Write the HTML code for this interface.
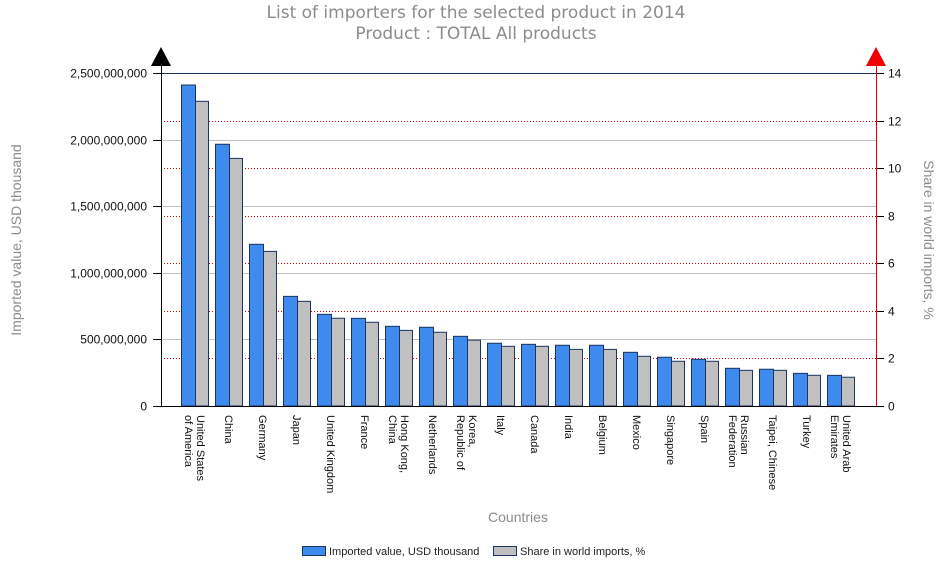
<!DOCTYPE html>
<html><head><meta charset="utf-8"><style>
body{margin:0;background:#fff;}
svg{display:block;font-family:"Liberation Sans",Arial,sans-serif;}
</style></head><body>
<svg id="chart" width="946" height="572" viewBox="0 0 946 572">
<text x="476" y="18" text-anchor="middle" font-size="17" fill="#8c8c8c" style="font-family:'DejaVu Sans',sans-serif">List of importers for the selected product in 2014</text>
<text x="476" y="39" text-anchor="middle" font-size="17" fill="#8c8c8c" style="font-family:'DejaVu Sans',sans-serif">Product : TOTAL All products</text>
<g id="grid"></g>
<g id="bars"></g>
<g id="axes"></g>
<text transform="translate(21,240) rotate(-90)" text-anchor="middle" font-size="14" fill="#8c8c8c">Imported value, USD thousand</text>
<text transform="translate(924,240) rotate(90)" text-anchor="middle" font-size="14" fill="#8c8c8c">Share in world imports, %</text>
<text x="518" y="522" text-anchor="middle" font-size="14" fill="#8c8c8c">Countries</text>
<g>
<rect x="302.5" y="546.5" width="23" height="9" fill="#3f8aee" stroke="#1a3560"/>
<text x="329" y="555" font-size="11" fill="#222">Imported value, USD thousand</text>
<rect x="493.5" y="546.5" width="23" height="9" fill="#c0c0c0" stroke="#1a3560"/>
<text x="520" y="555" font-size="11" fill="#222">Share in world imports, %</text>
</g>
</svg>
<script>
const categories = [["United States","of America"],["China"],["Germany"],["Japan"],["United Kingdom"],["France"],["Hong Kong,","China"],["Netherlands"],["Korea,","Republic of"],["Italy"],["Canada"],["India"],["Belgium"],["Mexico"],["Singapore"],["Spain"],["Russian","Federation"],["Taipei, Chinese"],["Turkey"],["United Arab","Emirates"]];
const importedValues = [2410000000,1965000000,1214000000,823000000,688000000,658000000,598000000,591000000,523000000,471000000,463000000,456000000,456000000,403000000,366000000,351000000,283000000,276000000,245000000,230000000];
const shareValues = [12.81,10.41,6.50,4.40,3.69,3.52,3.18,3.10,2.77,2.51,2.51,2.38,2.38,2.09,1.88,1.88,1.50,1.50,1.29,1.21];
const leftTicks = [0,500000000,1000000000,1500000000,2000000000,2500000000];
const leftTickLabels = ["0","500,000,000","1,000,000,000","1,500,000,000","2,000,000,000","2,500,000,000"];
const rightTicks = [0,2,4,6,8,10,12,14];

const NS="http://www.w3.org/2000/svg";
const X0=161,X1=876,Y0=406,Y1=73;
const yL=v=>Y0-(v/2500000000)*(Y0-Y1);
const yR=v=>Y0-(v/14)*(Y0-Y1);
function mk(tag,attrs,parent){const e=document.createElementNS(NS,tag);for(const k in attrs)e.setAttribute(k,attrs[k]);parent.appendChild(e);return e;}
const gridG=document.getElementById('grid'),barsG=document.getElementById('bars'),axesG=document.getElementById('axes');
leftTicks.forEach((t,i)=>{
  const y=Math.round(yL(t))+0.5;
  if(t>0&&t<2500000000){const l=mk('line',{x1:X0,x2:X1,y1:y,y2:y,stroke:'#c0c0c0','stroke-width':1},gridG);
  
  }
  const tk=mk('line',{x1:X0-8,x2:X0,y1:y,y2:y,stroke:'#000'},axesG);
  
  
  const tx=mk('text',{x:X0-14,y:y+4,'text-anchor':'end','font-size':12,fill:'#111'},axesG);
  tx.textContent=leftTickLabels[i];
  
  
});
rightTicks.forEach(t=>{
  const y=Math.round(yR(t))+0.5;
  if(t>0&&t<14){const l=mk('line',{x1:X0,x2:X1,y1:y,y2:y,stroke:'#e00000','stroke-dasharray':'1,2'},gridG);
  
  }
  const tk=mk('line',{x1:X1,x2:X1+8,y1:y,y2:y,stroke:'#000'},axesG);
  
  
  const tx=mk('text',{x:X1+12,y:y+4,'font-size':12,fill:'#111'},axesG);
  tx.textContent=t;
  
  
});
categories.forEach((c,i)=>{
  const x=181+i*34;
  const b=mk('rect',{x:x+0.5,y:yL(importedValues[i]),width:14,height:Y0-yL(importedValues[i]),fill:'#3f8aee',stroke:'#1a3560'},barsG);
  
  
  const g=mk('rect',{x:x+14.5,y:yR(shareValues[i]),width:13,height:Y0-yR(shareValues[i]),fill:'#c0c0c0',stroke:'#1a3560'},barsG);
  
  
  const cx=x+14;
  c.forEach((line,j)=>{
    const off=(j-(c.length-1)/2)*-12;
    const t=mk('text',{transform:`translate(${cx+off-4},415) rotate(90)`,'font-size':11,fill:'#111'},axesG);
    t.textContent=line;
    
    
  });
});
const topBorder=mk('line',{x1:X0,x2:X1,y1:Y1+0.5,y2:Y1+0.5,stroke:'#1a3560'},axesG);


const leftAxis=mk('line',{x1:X0+0.5,x2:X0+0.5,y1:60,y2:Y0,stroke:'#000'},axesG);


const rightAxis=mk('line',{x1:X1+0.5,x2:X1+0.5,y1:60,y2:Y0,stroke:'#e00000'},axesG);


const bottomAxis=mk('line',{x1:X0,x2:X1,y1:Y0+0.5,y2:Y0+0.5,stroke:'#000'},axesG);


const arrowL=mk('polygon',{points:`${X0-10},66 ${X0+10},66 ${X0},47`,fill:'#000'},axesG);


const arrowR=mk('polygon',{points:`${X1-10},66 ${X1+10},66 ${X1},47`,fill:'#f00000'},axesG);


</script>
</body></html>
